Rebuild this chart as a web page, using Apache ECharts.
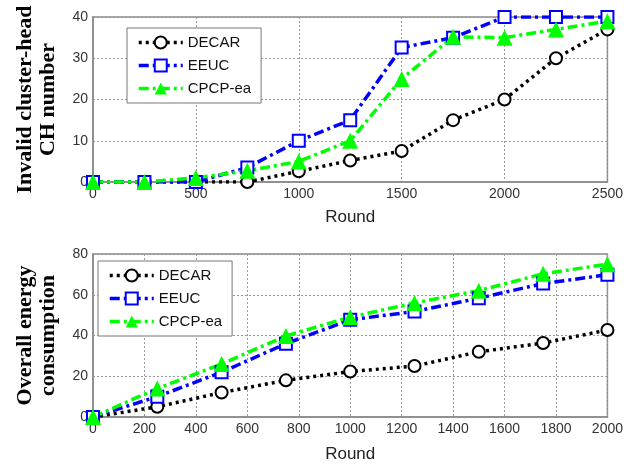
<!DOCTYPE html>
<html>
<head>
<meta charset="utf-8">
<style>
  html, body { margin: 0; padding: 0; background: #fff; }
  #chart { width: 626px; height: 464px; }
</style>
<script src="https://cdn.jsdelivr.net/npm/echarts@6/dist/echarts.min.js"></script>
</head>
<body>
<div id="chart"></div>
<script>
// top panel: invalid cluster-head number vs round
const roundsTop = [0, 250, 500, 750, 1000, 1250, 1500, 1750, 2000, 2250, 2500]
const decarTop = [0, 0, 0, 0, 2.6, 5.2, 7.5, 15, 20, 30, 37]
const eeucTop = [0, 0, 0, 3.5, 10, 15, 32.6, 35, 40, 40, 40]
const cpcpTop = [0, 0, 1, 2.7, 5, 10, 25, 35.2, 35, 37, 39]

// bottom panel: overall energy consumption vs round
const roundsBot = [0, 250, 500, 750, 1000, 1250, 1500, 1750, 2000]
const decarBot = [0, 5, 12, 18, 22.3, 25, 32, 36.3, 42.7]
const eeucBot = [0, 10, 22, 36, 47.7, 51.8, 58.3, 65.5, 69.8]
const cpcpBot = [0, 14, 26, 39.8, 49, 56, 62, 70.3, 75]

const seriesNames = ['DECAR', 'EEUC', 'CPCP-ea']

const chart = echarts.init(document.getElementById('chart'), null, { renderer: 'canvas' })

const pair = (xs, ys) => xs.map((x, i) => [x, ys[i]])

const styles = {
  'DECAR': { color: '#000000', symbol: 'emptyCircle', size: 12, dash: [3, 4] },
  'EEUC': { color: '#0000ff', symbol: 'emptyRect', size: 12, dash: [10, 4, 3, 4] },
  'CPCP-ea': { color: '#00ff00', symbol: 'triangle', size: 16, dash: [10, 4, 3, 4] }
}

const mkSeries = (idx, data, name) => ({
  name: name,
  type: 'line',
  xAxisIndex: idx,
  yAxisIndex: idx,
  data: data,
  symbol: styles[name].symbol,
  symbolSize: styles[name].size,
  showAllSymbol: true,
  animation: false,
  itemStyle: { color: styles[name].color, borderWidth: 3 },
  lineStyle: { color: styles[name].color, width: 3.5, type: styles[name].dash }
})

const gridLine = { show: true, lineStyle: { color: '#9a9a9a', type: [2, 2], width: 1 } }
const axisLine = { show: true, lineStyle: { color: '#8a8a8a', width: 1.5 } }
const tickLabel = { color: '#333', fontSize: 14, fontFamily: 'Arial, Liberation Sans', formatter: v => String(v) }
const yTitle = { color: '#000', fontSize: 22, fontWeight: 'bold', fontFamily: 'Liberation Serif, Times New Roman', lineHeight: 23 }
const xTitle = { color: '#222', fontSize: 17, fontFamily: 'Arial, Liberation Sans' }

const mkLegend = (left, top) => ({
  orient: 'vertical',
  left: left,
  top: top,
  data: seriesNames,
  backgroundColor: '#fff',
  borderColor: '#777',
  borderWidth: 1,
  borderRadius: 0,
  padding: [7, 10, 7, 10],
  itemGap: 8,
  itemWidth: 44,
  itemHeight: 15,
  selectedMode: false,
  lineStyle: { width: 3.5 },
  textStyle: { fontSize: 15, color: '#111', fontFamily: 'Arial, Liberation Sans' }
})

const option = {
  backgroundColor: '#fff',
  animation: false,
  grid: [
    { left: 93, right: 17, top: 17, bottom: 282, show: true, borderColor: '#8a8a8a', borderWidth: 1.5 },
    { left: 93, right: 18, top: 254, bottom: 47, show: true, borderColor: '#8a8a8a', borderWidth: 1.5 }
  ],
  legend: [mkLegend(127, 28), mkLegend(98, 261)],
  xAxis: [
    {
      type: 'value', gridIndex: 0, min: 0, max: 2500, interval: 500,
      name: 'Round', nameLocation: 'middle', nameGap: 27, nameTextStyle: xTitle,
      axisLine: axisLine, axisTick: { show: false }, axisLabel: { ...tickLabel, margin: 5 },
      splitLine: gridLine
    },
    {
      type: 'value', gridIndex: 1, min: 0, max: 2000, interval: 200,
      name: 'Round', nameLocation: 'middle', nameGap: 29, nameTextStyle: xTitle,
      axisLine: axisLine, axisTick: { show: false }, axisLabel: { ...tickLabel, margin: 5 },
      splitLine: gridLine
    }
  ],
  yAxis: [
    {
      type: 'value', gridIndex: 0, min: 0, max: 40, interval: 10,
      name: 'Invalid cluster-head\nCH number', nameLocation: 'middle', nameGap: 33, nameRotate: 90,
      nameTextStyle: yTitle,
      axisLine: axisLine, axisTick: { show: false }, axisLabel: { ...tickLabel, margin: 5 },
      splitLine: gridLine
    },
    {
      type: 'value', gridIndex: 1, min: 0, max: 80, interval: 20,
      name: 'Overall energy\nconsumption', nameLocation: 'middle', nameGap: 33, nameRotate: 90,
      nameTextStyle: yTitle,
      axisLine: axisLine, axisTick: { show: false }, axisLabel: { ...tickLabel, margin: 5 },
      splitLine: gridLine
    }
  ],
  series: [
    mkSeries(0, pair(roundsTop, decarTop), 'DECAR'),
    mkSeries(0, pair(roundsTop, eeucTop), 'EEUC'),
    mkSeries(0, pair(roundsTop, cpcpTop), 'CPCP-ea'),
    mkSeries(1, pair(roundsBot, decarBot), 'DECAR'),
    mkSeries(1, pair(roundsBot, eeucBot), 'EEUC'),
    mkSeries(1, pair(roundsBot, cpcpBot), 'CPCP-ea')
  ]
}

chart.setOption(option)
</script>
</body>
</html>
